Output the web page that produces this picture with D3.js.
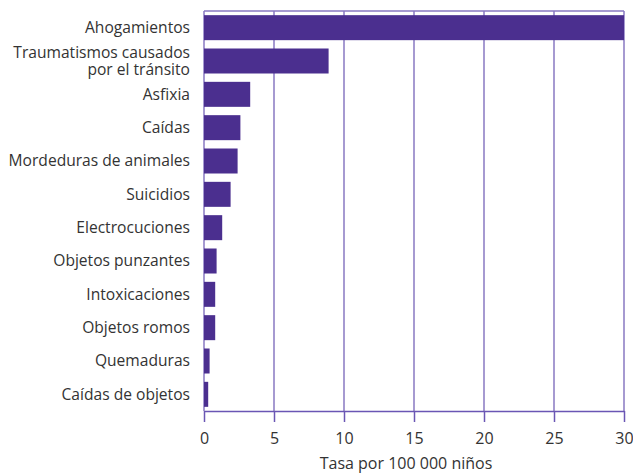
<!DOCTYPE html>
<html><head><meta charset="utf-8">
<script src="https://cdn.jsdelivr.net/npm/d3@7"></script>
<style>body{margin:0;background:#fff;} text{font-family:"Open Sans",sans-serif;}</style>
</head><body>
<svg id="c" width="633" height="474"></svg>
<script>
const categories = [
  ["Ahogamientos"],
  ["Traumatismos causados","por el tránsito"],
  ["Asfixia"],
  ["Caídas"],
  ["Mordeduras de animales"],
  ["Suicidios"],
  ["Electrocuciones"],
  ["Objetos punzantes"],
  ["Intoxicaciones"],
  ["Objetos romos"],
  ["Quemaduras"],
  ["Caídas de objetos"]
];
const values = [30, 8.9, 3.3, 2.6, 2.4, 1.9, 1.3, 0.9, 0.8, 0.8, 0.4, 0.3];
const xTicks = [0, 5, 10, 15, 20, 25, 30];
const axisTitle = "Tasa por 100 000 niños";

const svg = d3.select("#c");
const pL = 204, pR = 624, pT = 11, pB = 411;
const x = d3.scaleLinear().domain([0, 30]).range([pL, pR]);
const y = d3.scaleBand().domain(d3.range(categories.length)).range([pT, pB]).paddingInner(0.25).paddingOuter(0.125);

const gridColor = "#8878c2";
const axisColor = "#6a56b4";
const barColor = "#4b2f8f";
const textColor = "#333";

// frame top
svg.append("line").attr("x1", pL).attr("x2", pR).attr("y1", pT).attr("y2", pT)
  .attr("stroke", gridColor).attr("stroke-width", 1.5);
// gridlines
svg.selectAll("line.grid").data(xTicks).join("line").attr("class","grid")
  .attr("x1", d => x(d)).attr("x2", d => x(d)).attr("y1", pT).attr("y2", pB)
  .attr("stroke", gridColor).attr("stroke-width", 1.5);

// bars
svg.selectAll("rect.bar").data(values).join("rect").attr("class","bar")
  .attr("x", x(0)).attr("y", (d,i) => y(i)).attr("width", d => x(d) - x(0)).attr("height", y.bandwidth())
  .attr("fill", barColor);

// x axis
const ax = svg.append("g").attr("transform", `translate(0,${pB})`)
  .call(d3.axisBottom(x).tickValues(xTicks).tickSize(11).tickPadding(11).tickSizeOuter(0));
ax.select(".domain").attr("stroke", axisColor).attr("stroke-width", 1.5);
ax.selectAll(".tick line").attr("stroke", axisColor).attr("stroke-width", 1.5);
ax.selectAll(".tick text").attr("font-family", "Open Sans, sans-serif").attr("font-size", 16).attr("fill", textColor);

// y labels
categories.forEach((lines, i) => {
  const cy = y(i) + y.bandwidth() / 2;
  const t = svg.append("text").attr("x", 190).attr("text-anchor", "end")
    .attr("font-size", 15.6).attr("fill", textColor);
  const n = lines.length;
  lines.forEach((ln, j) => {
    t.append("tspan").attr("x", 190).attr("y", cy + (j - (n - 1) / 2) * 16.5).attr("dy", "0.35em").text(ln);
  });
});

svg.append("text").attr("x", 406).attr("y", 469).attr("text-anchor", "middle")
  .attr("font-size", 16).attr("fill", textColor).text(axisTitle);
</script>
</body></html>
